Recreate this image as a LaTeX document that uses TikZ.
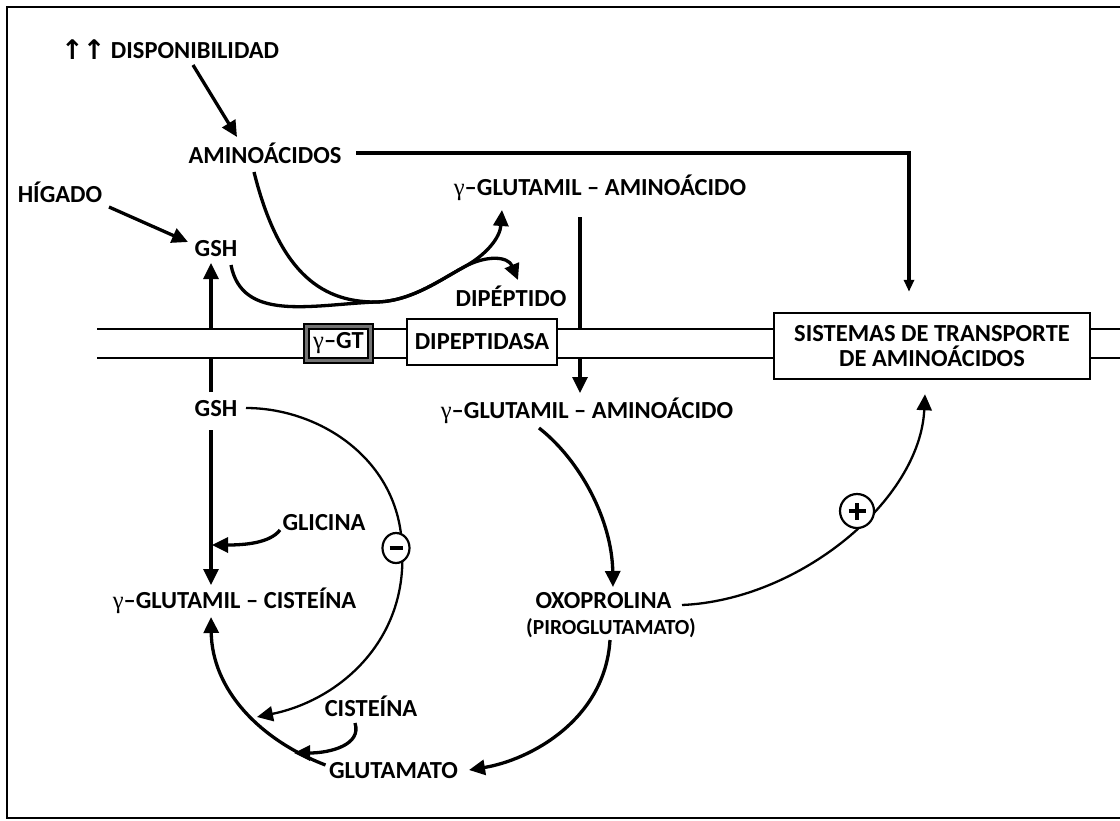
\documentclass[tikz,border=0pt]{standalone}
\usepackage{fontspec}
\setmainfont{Carlito}
\newfontfamily\djv{DejaVu Sans}
\newfontfamily\grk{Liberation Serif}
\usetikzlibrary{arrows.meta,shapes.geometric}
\pgfdeclarelayer{bg}
\pgfsetlayers{bg,main}
\begin{document}
\begin{tikzpicture}[x=1pt,y=-1pt,
  lbl/.style={font=\fontsize{24.5}{26}\selectfont\bfseries, inner sep=1pt, text height=16pt, text depth=0pt},
  slbl/.style={font=\fontsize{21.5}{24}\selectfont\bfseries, inner sep=1pt, text height=14pt, text depth=0pt},
  arr/.style={line width=3.3pt, -{Triangle[length=16pt,width=15pt]}},
  tarr/.style={line width=2.3pt, -{Triangle[length=16pt,width=15pt]}},
  mem/.style={line width=2.8pt},
  box/.style={draw, fill=white, inner sep=0pt, font=\fontsize{24.5}{26}\selectfont\bfseries, align=center},
  sign/.style={draw, fill=white, line width=2.2pt, inner sep=0pt, ellipse}
]
\useasboundingbox (0,0) rectangle (1120,820);
% frame
\draw[line width=2.5pt] (1120,7) -- (7,7) -- (7,818) -- (1120,818);
% membrane
\fill[white] (97,329) rectangle (1120,358);
\draw[mem] (97,329) -- (1120,329);
\draw[mem] (97,358) -- (1120,358);

% boxes on the membrane
\node[box, line width=1.6pt, double=black!55, double distance=3pt, minimum width=64pt, minimum height=34pt] (ggt) at (338.5,343.5) {{\grk\mdseries γ}–GT};
\node[box, line width=1.2pt, minimum width=150pt, minimum height=46pt] (dpt) at (482,342) {DIPEPTIDASA};
\node[box, line width=2.5pt, minimum width=316pt, minimum height=66pt] (sist) at (932,346) {SISTEMAS DE TRANSPORTE\\[-1pt]DE AMINOÁCIDOS};

% labels
\node[lbl, anchor=west] (disp) at (60,50) {{\djv\bfseries\fontsize{27}{27}\selectfont\raisebox{-1.5pt}{↑\kern-1pt↑}} DISPONIBILIDAD};
\node[lbl] (amino) at (265,155) {AMINOÁCIDOS};
\node[lbl] (hig) at (60,194) {HÍGADO};
\node[lbl] (gsh1) at (216,248) {GSH};
\node[lbl] (ga1) at (600,187) {{\grk\mdseries γ}–GLUTAMIL – AMINOÁCIDO};
\node[lbl] (dip) at (511,298) {DIPÉPTIDO};
\node[lbl] (gsh2) at (216,408) {GSH};
\node[lbl] (ga2) at (587,410) {{\grk\mdseries γ}–GLUTAMIL – AMINOÁCIDO};
\node[lbl] (glic) at (324,522) {GLICINA};
\node[lbl] (gcis) at (234.5,600) {{\grk\mdseries γ}–GLUTAMIL – CISTEÍNA};
\node[lbl] (oxo) at (603.5,600) {OXOPROLINA};
\node[slbl] (piro) at (611,627) {(PIROGLUTAMATO)};
\node[lbl] (cis) at (371,708) {CISTEÍNA};
\node[lbl] (glu) at (393.5,770) {GLUTAMATO};
\node[sign, minimum width=27pt, minimum height=30pt,
  path picture={\draw[line width=4.5pt] ([xshift=-6.5pt]path picture bounding box.center) -- ([xshift=6.5pt]path picture bounding box.center);}] (minus) at (396,548) {};
\node[sign, circle, minimum size=34pt,
  path picture={\draw[line width=3.8pt] ([xshift=-8.5pt]path picture bounding box.center) -- ([xshift=8.5pt]path picture bounding box.center);
                \draw[line width=3.8pt] ([yshift=-8.5pt]path picture bounding box.center) -- ([yshift=8.5pt]path picture bounding box.center);}] (plus) at (857,511) {};
\coordinate (merge) at (375,302);
\coordinate (split) at (464,267);

% connectors
\begin{pgfonlayer}{bg}
\draw[arr] ([shift={(133,15)}]disp.west) -- ([shift={(-28,-18)}]amino.center);
\draw[line width=3.3pt, -{Triangle[length=12pt,width=10pt]}] ([shift={(91,-2)}]amino.center) -| ([shift={(-23,-20)}]sist.north);
\draw[arr] ([shift={(49,13)}]hig.center) -- ([shift={(-28,-6)}]gsh1.center);
\draw[arr] ([shift={(-11,17)}]amino.center) .. controls (278,268) and (318,302) .. (merge)
  .. controls (410,302) and (440,280) .. (split) .. controls (486,255) and (500,238) .. ([shift={(-98,23)}]ga1.center);
\draw[arr] ([shift={(15,17)}]gsh1.center) .. controls (242,322) and (310,305) .. (merge)
  .. controls (410,302) and (440,280) .. (split) .. controls (486,255) and (508,256) .. ([shift={(7,-18)}]dip.center);
\draw[arr] ([shift={(-20,30)}]ga1.center) -- ([shift={(-7,-17)}]ga2.center);
\draw[arr] ([shift={(-5,-16)}]gsh2.center) -- ([shift={(-5,15)}]gsh1.center);
\draw[arr] ([shift={(-5,22)}]gsh2.center) -- ([shift={(-23.5,-15)}]gcis.center);
\draw[arr] ([shift={(-44,8)}]glic.center) .. controls (270,543) and (245,545) .. ([shift={(-112,23)}]glic.center);
\draw[tarr] ([shift={(30,0)}]gsh2.center) .. controls (320,408) and (400,460) .. ([shift={(6,0)}]minus.center) .. controls (408,640) and (340,700) .. ([shift={(-114,9)}]cis.center);
\draw[arr] ([shift={(-68,-5)}]glu.center) .. controls (260,740) and (212,690) .. ([shift={(-23.5,17)}]gcis.center);
\draw[arr] ([shift={(-16,15)}]cis.center) .. controls (362,745) and (330,753) .. ([shift={(-77,45)}]cis.center);
\draw[arr] ([shift={(-1,13)}]piro.center) .. controls (605,720) and (530,760) .. ([shift={(75.5,0)}]glu.center);
\draw[arr] ([shift={(-48,18)}]ga2.center) .. controls (580,460) and (612,520) .. ([shift={(9.5,-13)}]oxo.center);
\draw[tarr] ([shift={(78.5,5)}]oxo.center) .. controls (800,600) and (920,500) .. ([shift={(-7,14)}]sist.south);
\end{pgfonlayer}
\end{tikzpicture}
\end{document}
